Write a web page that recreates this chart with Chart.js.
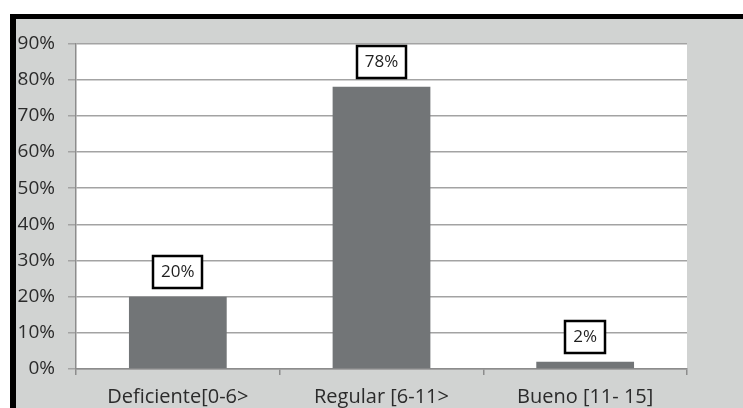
<!DOCTYPE html>
<html>
<head>
<meta charset="utf-8">
<script src="https://cdn.jsdelivr.net/npm/chart.js@4"></script>
<style>
  html, body { margin: 0; padding: 0; background: #ffffff; width: 743px; height: 408px; overflow: hidden; }
  #frame {
    position: absolute; left: 10px; top: 14px; width: 727px; height: 389px;
    border-left: 6px solid #000; border-top: 5px solid #000;
    background: #d1d3d2;
  }
  #wrap { position: absolute; left: 0; top: 0; width: 727px; height: 389px; }
</style>
</head>
<body>
<div id="frame"><div id="wrap"><canvas id="c" width="727" height="389"></canvas></div></div>
<script>
// Niveles y porcentajes
const categories = ['Deficiente[0-6>', 'Regular [6-11>', 'Bueno [11- 15]'];
const percentages = [20, 78, 2];
const yTickValues = [0, 10, 20, 30, 40, 50, 60, 70, 80, 90];

const FONT = '"Open Sans", "Noto Sans", sans-serif';

// White plot area behind the bars
const plotBackground = {
  id: 'plotBackground',
  beforeDraw(chart) {
    const { ctx, chartArea: a } = chart;
    ctx.save();
    ctx.fillStyle = '#ffffff';
    ctx.fillRect(a.left, a.top, a.right - a.left, a.bottom - a.top);
    ctx.restore();
  }
};

// Boxed percentage labels above each bar
const boxedLabels = {
  id: 'boxedLabels',
  afterDatasetsDraw(chart) {
    const { ctx } = chart;
    const meta = chart.getDatasetMeta(0);
    ctx.save();
    ctx.font = '17px ' + FONT;
    ctx.textAlign = 'center';
    ctx.textBaseline = 'middle';
    meta.data.forEach((bar, i) => {
      const text = percentages[i] + '%';
      const w = Math.round(ctx.measureText(text).width + 16);
      const h = 32;
      const cx = bar.x;
      const bottom = bar.y - 9;
      const x0 = Math.round(cx - w / 2);
      const y0 = Math.round(bottom - h);
      ctx.fillStyle = '#ffffff';
      ctx.fillRect(x0, y0, w, h);
      ctx.lineWidth = 2.5;
      ctx.strokeStyle = '#000000';
      ctx.strokeRect(x0, y0, w, h);
      ctx.fillStyle = '#1f1f1f';
      ctx.fillText(text, cx, y0 + h / 2);
    });
    ctx.restore();
  }
};

new Chart(document.getElementById('c'), {
  type: 'bar',
  data: {
    labels: categories,
    datasets: [{
      data: percentages,
      backgroundColor: '#727577',
      borderWidth: 0,
      categoryPercentage: 1,
      barPercentage: 0.48
    }]
  },
  options: {
    responsive: false,
    animation: false,
    events: [],
    layout: { padding: { top: 20, right: 56, bottom: 0, left: 0 } },
    plugins: { legend: { display: false }, tooltip: { enabled: false } },
    scales: {
      x: {
        grid: {
          offset: true,
          drawOnChartArea: false,
          color: '#8c8c8c',
          lineWidth: 1.5,
          tickLength: 6
        },
        border: { color: '#8c8c8c', width: 1.5 },
        ticks: {
          color: '#2b2b2b',
          font: { family: FONT, size: 20 },
          padding: 10
        },
        afterFit(scale) { scale.height = 39; }
      },
      y: {
        min: 0,
        max: 90,
        afterBuildTicks(scale) { scale.ticks = yTickValues.map(v => ({ value: v })); },
        grid: {
          color: '#a3a3a3',
          lineWidth: 1.5,
          tickLength: 8
        },
        border: { color: '#8c8c8c', width: 1.5 },
        ticks: {
          color: '#2b2b2b',
          font: { family: FONT, size: 19 },
          padding: 13,
          callback: v => v + '%'
        },
        afterFit(scale) { scale.width = 60; }
      }
    }
  },
  plugins: [plotBackground, boxedLabels]
});
</script>
</body>
</html>
